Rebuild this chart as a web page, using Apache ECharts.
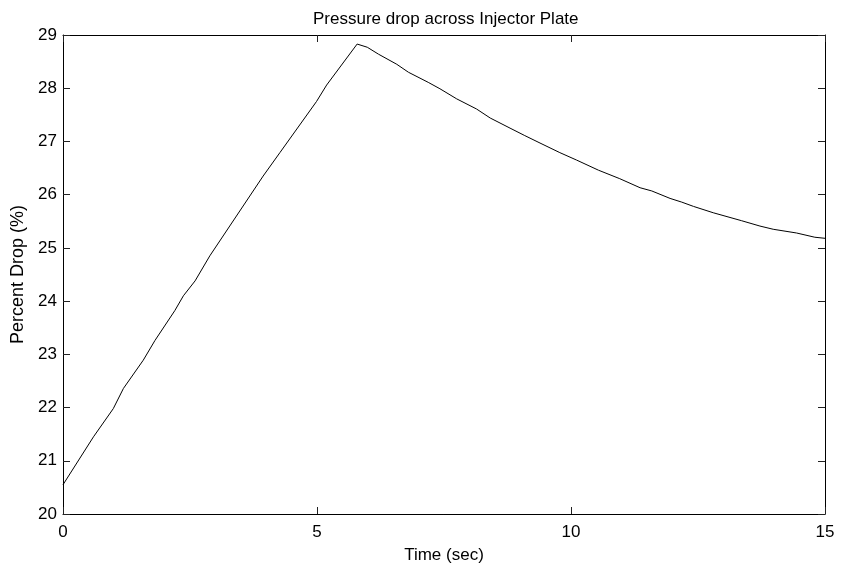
<!doctype html>
<html>
<head>
<meta charset="utf-8">
<title>Pressure drop across Injector Plate</title>
<script src="https://cdn.jsdelivr.net/npm/echarts@6/dist/echarts.min.js"></script>
<style>
  html, body { margin: 0; padding: 0; background: #fff; }
  #main { width: 841px; height: 569px; }
</style>
</head>
<body>
<div id="main"></div>
<script>
// time (sec) and percent drop
var timeSec = [0, 0.6, 0.99, 1.19, 1.58, 1.81, 2.2, 2.37, 2.6, 2.89, 3.94, 4.27, 4.99, 5.19, 5.79,
  5.99, 6.21, 6.57, 6.8, 7.19, 7.42, 7.75, 8.14, 8.41, 8.8, 9.09, 9.39, 9.78, 10.11, 10.54,
  10.96, 11.36, 11.59, 11.95, 12.18, 12.41, 12.8, 13.36, 13.72, 13.98, 14.44, 14.8, 15];
var percentDrop = [20.55, 21.45, 21.98, 22.36, 22.89, 23.26, 23.82, 24.1, 24.38, 24.85, 26.35, 26.79, 27.75, 28.06, 28.83,
  28.77, 28.64, 28.45, 28.3, 28.11, 27.99, 27.8, 27.61, 27.44, 27.25, 27.11, 26.97, 26.79, 26.65, 26.46,
  26.3, 26.13, 26.07, 25.93, 25.86, 25.78, 25.66, 25.51, 25.41, 25.35, 25.28, 25.2, 25.18];

var font = 'Liberation Sans, Arial, sans-serif';

var points = [];
for (var i = 0; i < timeSec.length; i++) {
  points.push([timeSec[i], percentDrop[i]]);
}

var myChart = echarts.init(document.getElementById('main'));

// box axes: top and right copies carry ticks only, like matlab
function boxX(pos, show) {
  return {
    type: 'value', position: pos, min: 0, max: 15, interval: 5,
    axisLine: { show: true, onZero: false, lineStyle: { color: '#000', width: 1 } },
    axisTick: { show: true, inside: true, length: 7, lineStyle: { color: '#222' } },
    axisLabel: { show: show, color: '#000', fontSize: 17, fontFamily: font, margin: 10 },
    splitLine: { show: false }
  };
}
function boxY(pos, show) {
  return {
    type: 'value', position: pos, min: 20, max: 29, interval: 1,
    axisLine: { show: true, onZero: false, lineStyle: { color: '#000', width: 1 } },
    axisTick: { show: true, inside: true, length: 7, lineStyle: { color: '#222' } },
    axisLabel: { show: show, color: '#000', fontSize: 17, fontFamily: font, margin: 6 },
    splitLine: { show: false }
  };
}

var xMain = boxX('bottom', true);
xMain.name = 'Time (sec)';
xMain.nameLocation = 'middle';
xMain.nameGap = 33;
xMain.nameTextStyle = { color: '#000', fontSize: 17, fontFamily: font };

var yMain = boxY('left', true);
yMain.name = 'Percent Drop (%)';
yMain.nameLocation = 'middle';
yMain.nameGap = 35;
yMain.nameTextStyle = { color: '#000', fontSize: 18, fontFamily: font };

var option = {
  animation: false,
  title: {
    text: 'Pressure drop across Injector Plate',
    left: 308, top: 6,
    textStyle: { color: '#000', fontSize: 17, fontWeight: 'normal', fontFamily: font }
  },
  grid: { left: 63, right: 16, top: 35, bottom: 53 },
  xAxis: [xMain, boxX('top', false)],
  yAxis: [yMain, boxY('right', false)],
  series: [{
    type: 'line',
    data: points,
    showSymbol: false,
    smooth: false,
    lineStyle: { color: '#000', width: 1 }
  }]
};

myChart.setOption(option);
</script>
</body>
</html>
